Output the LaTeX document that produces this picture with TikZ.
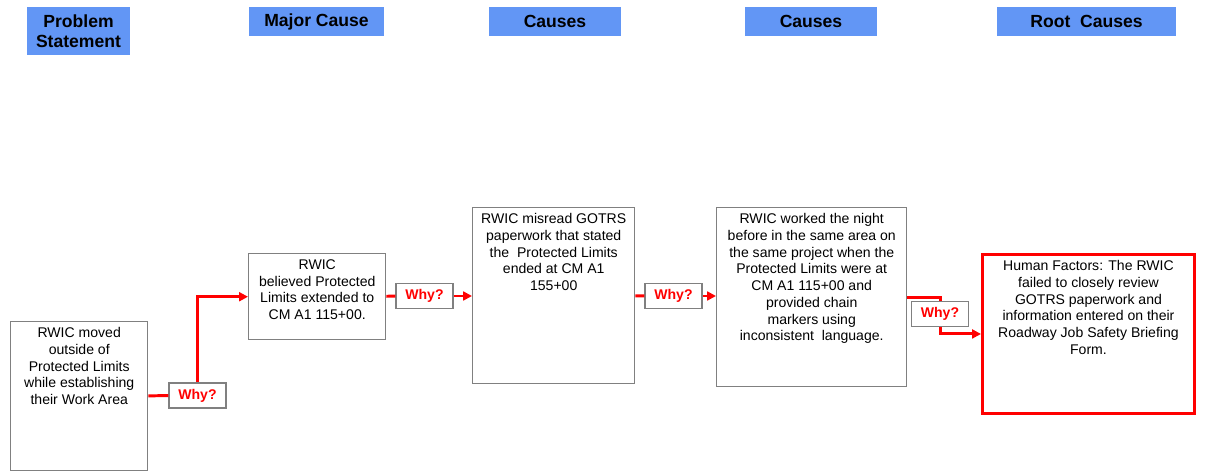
\documentclass[tikz,border=0pt]{standalone}
\usepackage{fontspec}
\setmainfont{Liberation Sans}
\usetikzlibrary{arrows.meta}
\definecolor{hdrblue}{RGB}{98,150,245}
\definecolor{boxgray}{RGB}{128,128,128}
\newcommand{\boxtxt}[3]{\parbox[c][#2][t]{#1}{\centering\fontsize{8}{9.5}\selectfont #3}}
\tikzset{
  hdr/.style={fill=hdrblue, font=\fontsize{10}{11.4}\selectfont\bfseries, align=center, inner sep=0pt, minimum height=0.58cm},
  cause/.style={draw=boxgray, line width=0.85pt, anchor=north west, inner xsep=0pt, inner ysep=0.12cm},
  why/.style={draw=boxgray, line width=0.85pt, text=red, font=\fontsize{8}{9.5}\selectfont\bfseries, inner sep=0pt, minimum width=1.14cm, minimum height=0.5cm},
  wire/.style={red, line width=1.7pt},
  wirearr/.style={wire, -{Triangle[length=5pt,width=5pt]}}
}
\begin{document}
\begin{tikzpicture}[x=0.02cm, y=-0.02cm]
\useasboundingbox (0,0) rectangle (1225,472);
\node[hdr, minimum width=2.06cm, minimum height=0.96cm] (hProb) at (78.5,31) {Problem\\Statement};
\node[hdr, minimum width=2.7cm] (hMajor) at (316.5,21.5) {Major Cause};
\node[hdr, minimum width=2.64cm] (hCause1) at (555,21.5) {Causes};
\node[hdr, minimum width=2.64cm] (hCause2) at (811,21.5) {Causes};
\node[hdr, minimum width=3.58cm] (hRoot) at (1086.5,21.5) {Root\ \ Causes};

\node[cause] (prob) at (10,321) {\boxtxt{2.74cm}{2.74cm}{RWIC moved\\outside of\\Protected Limits\\while establishing\\their Work Area}};
\node[cause] (major) at (248,253) {\boxtxt{2.74cm}{1.48cm}{RWIC\\believed Protected\\Limits extended to\\CM A1 115+00.}};
\node[cause] (cause1) at (472,207) {\boxtxt{3.24cm}{3.28cm}{RWIC misread GOTRS\\paperwork that stated\\the\ \ Protected Limits\\ended at CM A1\\155+00}};
\node[cause] (cause2) at (716,207) {\boxtxt{3.8cm}{3.34cm}{RWIC worked the night\\before in the same area on\\the same project when the\\Protected Limits were at\\CM A1 115+00 and\\provided chain\\markers using\\inconsistent\ \ language.}};
\node[cause, draw=red, line width=1.7pt] (root) at (981,253) {\boxtxt{4.24cm}{2.94cm}{Human Factors: The RWIC\\failed to closely review\\GOTRS paperwork and\\information entered on their\\Roadway Job Safety Briefing\\Form.}};

\node[why] (why1) at (197.5,395.5) {Why?};
\node[why] (why2) at (424.5,296) {Why?};
\node[why] (why3) at (673.5,296) {Why?};
\node[why] (why4) at (940,314) {Why?};

\draw[wire] (prob) -- (why1);
\draw[wirearr] (why1.north) |- (major.west);
\draw[wire] (major) -- (why2);
\draw[wirearr] (why2) -- (why2 -| cause1.west);
\draw[wire] (cause1) -- (why3);
\draw[wirearr] (why3) -- (why3 -| cause2.west);
\draw[wire] (cause2.east) -| (why4.north);
\draw[wirearr] (why4.south) |- (root.west);
\end{tikzpicture}
\end{document}
